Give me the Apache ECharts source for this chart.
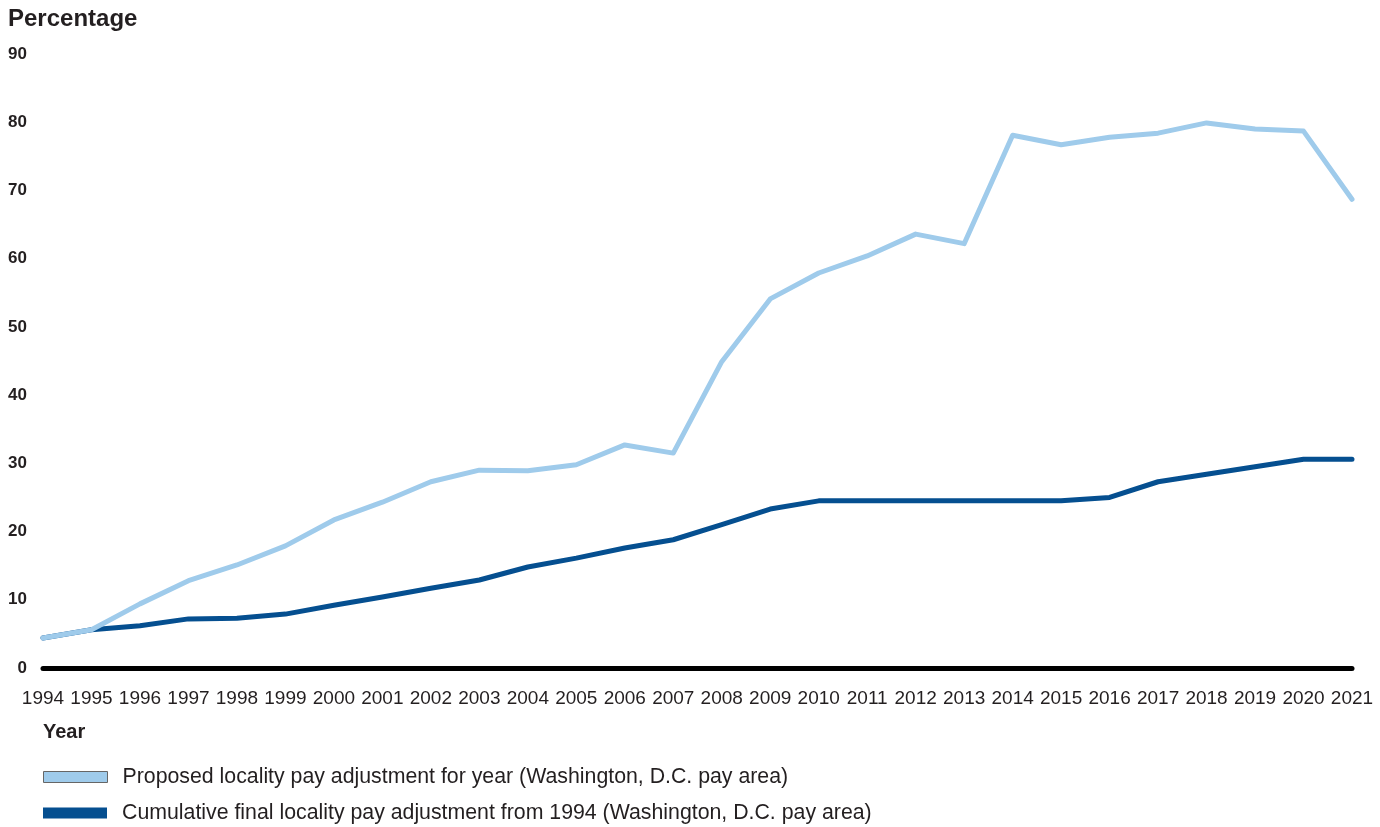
<!DOCTYPE html>
<html>
<head>
<meta charset="utf-8">
<script src="https://cdn.jsdelivr.net/npm/echarts@6/dist/echarts.min.js"></script>
<style>html,body{margin:0;padding:0;background:#fff}#c{width:1380px;height:827px}</style>
</head>
<body>
<div id="c"></div>
<script>
const years = ['1994','1995','1996','1997','1998','1999','2000','2001','2002','2003','2004','2005','2006','2007','2008','2009','2010','2011','2012','2013','2014','2015','2016','2017','2018','2019','2020','2021'];
const proposed = [4.4,5.6,9.4,12.8,15.1,17.9,21.7,24.3,27.3,29.0,28.9,29.8,32.7,31.5,44.9,54.1,57.9,60.4,63.6,62.2,78.1,76.7,77.8,78.4,79.9,79.0,78.7,68.7];
const cumulative = [4.4,5.6,6.2,7.2,7.3,7.9,9.2,10.4,11.7,12.9,14.8,16.1,17.6,18.8,21.0,23.3,24.5,24.5,24.5,24.5,24.5,24.5,25.0,27.3,28.4,29.5,30.6,30.6];
const yTicks = [0,10,20,30,40,50,60,70,80,90];
const seriesNames = ['Proposed locality pay adjustment for year (Washington, D.C. pay area)','Cumulative final locality pay adjustment from 1994 (Washington, D.C. pay area)'];

const font = '"Liberation Sans Narrow","Arial Narrow","Liberation Sans",Arial,sans-serif';
const legendText = {fontFamily:font,fontSize:21.3,lineHeight:22,color:'#231f20',padding:[0,0,0,10]};
const chart = echarts.init(document.getElementById('c'), null, {renderer:'canvas'});
chart.setOption({
  animation:false,
  grid:{left:43,right:28,top:54,bottom:159,containLabel:false},
  graphic:[
    {type:'text',left:8,top:7,style:{text:'Percentage',font:'bold 24px "Liberation Sans",Arial,sans-serif',fill:'#231f20'}},
    {type:'text',left:43,top:722,style:{text:'Year',font:'bold 20px '+font,fill:'#231f20'}}
  ],
  legend:[
    {orient:'vertical',left:43,top:766,padding:0,itemWidth:64,itemHeight:11,itemGap:15,textStyle:legendText,
     data:[{name:seriesNames[0],icon:'rect',itemStyle:{color:'#9fcbeb',borderColor:'#666',borderWidth:1}}]},
    {orient:'vertical',left:43,top:802,padding:0,itemWidth:64,itemHeight:11,itemGap:15,textStyle:legendText,
     data:[{name:seriesNames[1],icon:'rect',itemStyle:{color:'#054f90'}}]}
  ],
  xAxis:{
    type:'category',data:years,boundaryGap:false,
    axisLine:{show:true,lineStyle:{color:'#000',width:5}},
    axisTick:{show:false},
    axisLabel:{color:'#231f20',fontFamily:font,fontSize:19,margin:21,interval:0}
  },
  yAxis:{
    type:'value',min:0,max:90,interval:10,
    axisLine:{show:false},axisTick:{show:false},splitLine:{show:false},
    axisLabel:{color:'#231f20',fontFamily:font,fontWeight:'bold',fontSize:17,margin:16,padding:[4,0,0,0],
      formatter:v=>yTicks.includes(v)?String(v):''}
  },
  series:[
    {name:seriesNames[0],type:'line',data:proposed,symbol:'none',z:3,
     lineStyle:{color:'#9fcbeb',width:5,join:'round',cap:'round'},itemStyle:{color:'#9fcbeb'}},
    {name:seriesNames[1],type:'line',data:cumulative,symbol:'none',z:2,
     lineStyle:{color:'#054f90',width:5,join:'round',cap:'round'},itemStyle:{color:'#054f90'}}
  ]
});
</script>
</body>
</html>
